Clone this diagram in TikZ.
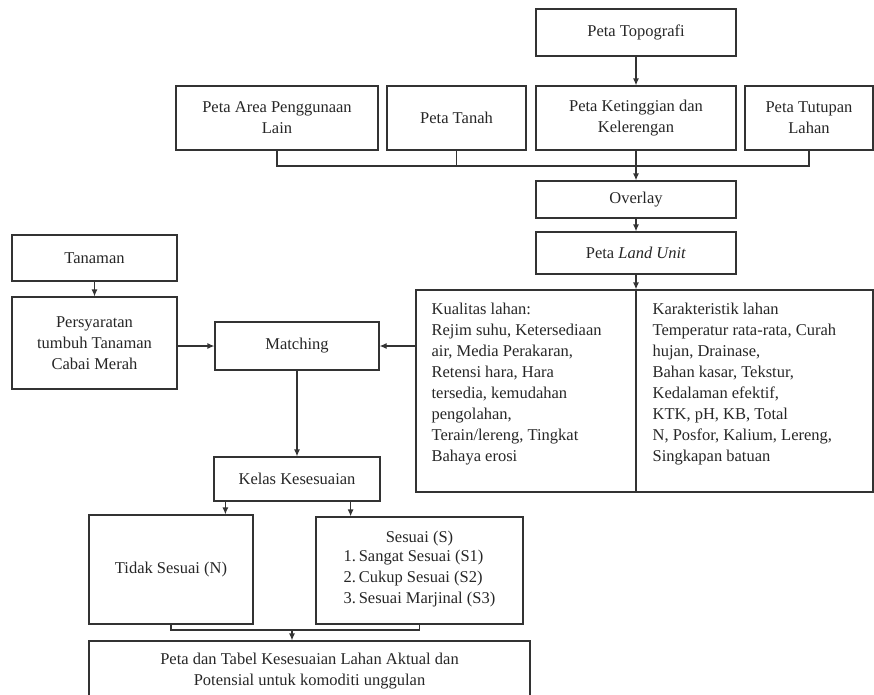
\documentclass[tikz,border=0pt]{standalone}
\usepackage{fontspec}
\setmainfont{Liberation Serif}
\usetikzlibrary{positioning, arrows.meta}

\begin{document}
\begin{tikzpicture}[x=1pt, y=-1pt, line width=1.2pt, draw=black!80,
  >={Latex[length=7pt,width=6pt]},
  every node/.style={font=\fontsize{16.5}{21}\selectfont, text=black!85},
  box/.style={draw=black!80, rectangle, align=center, inner sep=2pt},
  coltext/.style={anchor=north west, align=left, inner sep=0pt}]
       \useasboundingbox (0,0) rectangle (874,694);

       \node[box, minimum width=200, minimum height=47] (topo) at (636,32.5) {Peta Topografi};
       \node[box, minimum width=202, minimum height=64] (area) at (277,118) {Peta Area Penggunaan\\Lain};
       \node[box, minimum width=139, minimum height=64] (tanah) at (456.5,118) {Peta Tanah};
       \node[box, minimum width=200, minimum height=64] (tinggi) at (636,118) {Peta Ketinggian dan\\Kelerengan};
       \node[box, minimum width=128, minimum height=64] (tutupan) at (809,118) {Peta Tutupan\\Lahan};
       \node[box, minimum width=200, minimum height=37] (overlay) at (636,199.5) {Overlay};
       \node[box, minimum width=200, minimum height=42] (landunit) at (636,253) {Peta \textit{Land Unit}};

       \node[box, minimum width=457, minimum height=202] (tabel) at (644.5,391) {};
       \coordinate (divtop) at (636,290);
       \node[coltext] (kualitas) at (431,302) {Kualitas lahan:\\Rejim suhu, Ketersediaan\\air, Media Perakaran,\\Retensi hara, Hara\\tersedia, kemudahan\\pengolahan,\\Terain/lereng, Tingkat\\Bahaya erosi};
       \node[coltext] (karakter) at (652,302) {Karakteristik lahan\\Temperatur rata-rata, Curah\\hujan, Drainase,\\Bahan kasar, Tekstur,\\Kedalaman efektif,\\KTK, pH, KB, Total\\N, Posfor, Kalium, Lereng,\\Singkapan batuan};

       \node[box, minimum width=165, minimum height=46] (tanaman) at (94.5,258) {Tanaman};
       \node[box, minimum width=165, minimum height=92] (syarat) at (94.5,343) {Persyaratan\\tumbuh Tanaman\\Cabai Merah};
       \node[box, minimum width=164, minimum height=48] (matching) at (297,346) {Matching};
       \node[box, minimum width=166, minimum height=44] (kelas) at (297,479) {Kelas Kesesuaian};
       \node[box, minimum width=164, minimum height=109] (tidak) at (171,569.5) {Tidak Sesuai (N)};
       \node[box, minimum width=207, minimum height=107] (sesuai) at (419.5,570.5)
            {Sesuai (S)\\\begin{tabular}{@{}l@{}}1.\,Sangat Sesuai (S1)\\2.\,Cukup Sesuai (S2)\\3.\,Sesuai Marjinal (S3)\end{tabular}};
       \node[box, minimum width=441, minimum height=60] (akhir) at (309.5,671) {Peta dan Tabel Kesesuaian Lahan Aktual dan\\Potensial untuk komoditi unggulan};

       \coordinate (bus) at (636,166);
       \coordinate (merge) at (292,630);

       \draw[->] (topo) -- (tinggi);
       \draw (area.south) |- (bus) -| (tutupan.south);
       \draw (tanah.south) -- (tanah.south |- bus);
       \draw[->] (tinggi) -- (overlay);
       \draw[->] (overlay) -- (landunit);
       \draw[->] (landunit) -- (landunit.south |- tabel.north);
       \draw (divtop) -- (divtop |- tabel.south);
       \draw[->] (tanaman) -- (syarat);
       \draw[->] (syarat.east |- matching) -- (matching.west);
       \draw[->] (tabel.west |- matching) -- (matching.east);
       \draw[->] (matching) -- (kelas);
       \draw[->] ([xshift=12pt]kelas.south west) -- ([xshift=12pt]kelas.south west |- tidak.north);
       \draw[->] ([xshift=-30pt]kelas.south east) -- ([xshift=-30pt]kelas.south east |- sesuai.north);
       \draw (tidak.south) |- (merge) -| (sesuai.south);
       \draw[->] (merge) -- (merge |- akhir.north);
    \end{tikzpicture}
\end{document}
